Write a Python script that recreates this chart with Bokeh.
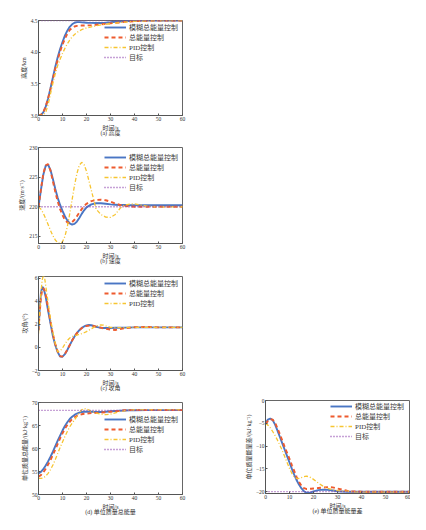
from bokeh.plotting import figure
from bokeh.models import Range1d, Legend, LegendItem, FixedTicker, Spacer
from bokeh.layouts import row, column
from bokeh.embed import file_html
from bokeh.resources import INLINE

# ---------------- data ----------------
T = [0, 1, 2, 3, 4, 5, 6, 7, 8, 9, 10, 11, 12, 13, 14, 15, 16, 17, 18, 19, 20,
     22, 24, 26, 28, 30, 32, 34, 36, 38, 40, 45, 50, 55, 60]
T_c = [0, 0.5, 1, 1.5, 2, 2.5, 3, 4, 5, 6, 7, 8, 9, 10, 11, 12, 13, 14, 15, 16,
       17, 18, 19, 20, 21, 22, 23, 24, 25, 26, 27, 28, 30, 32, 34, 36, 40, 45, 50, 55, 60]

labels = ["模糊总能量控制", "总能量控制", "PID控制", "目标"]
x_ticks = [0, 10, 20, 30, 40, 50, 60]

# (a) height, km
h_fuzzy = [3.00, 3.01, 3.05, 3.14, 3.27, 3.43, 3.60, 3.77, 3.92, 4.05, 4.16, 4.26, 4.34, 4.40, 4.44,
           4.465, 4.475, 4.475, 4.47, 4.468, 4.465,
           4.462, 4.46, 4.46, 4.465, 4.472, 4.48, 4.485, 4.49, 4.493, 4.495,
           4.498, 4.5, 4.5, 4.5]
h_tecs = [3.00, 3.01, 3.05, 3.14, 3.27, 3.42, 3.58, 3.74, 3.88, 4.01, 4.12, 4.21, 4.29, 4.35, 4.385,
          4.405, 4.415, 4.418, 4.42, 4.42, 4.422,
          4.427, 4.433, 4.44, 4.447, 4.455, 4.463, 4.47, 4.478, 4.485, 4.49,
          4.496, 4.5, 4.5, 4.5]
h_pid = [3.00, 3.00, 3.01, 3.05, 3.17, 3.34, 3.51, 3.66, 3.79, 3.89, 3.98, 4.06, 4.13, 4.19, 4.24,
         4.28, 4.31, 4.335, 4.355, 4.37, 4.383,
         4.40, 4.415, 4.43, 4.44, 4.45, 4.46, 4.468, 4.475, 4.482, 4.488,
         4.495, 4.498, 4.5, 4.5]
h_target = 4.5

# (b) velocity, m/s
v_fuzzy = [220.0, 222.8, 225.4, 226.9, 227.1, 226.2, 224.7, 223.0, 221.5, 220.3, 219.3, 218.4, 217.7,
           217.2, 217.0, 217.1, 217.5, 218.1, 218.8, 219.4, 219.9,
           220.4, 220.6, 220.6, 220.5, 220.4, 220.35, 220.3, 220.3, 220.25, 220.25,
           220.25, 220.25, 220.25, 220.25]
v_tecs = [220.0, 222.9, 225.6, 227.0, 227.2, 226.1, 224.3, 222.5, 220.9, 219.6, 218.6, 217.8, 217.35,
          217.25, 217.4, 217.8, 218.4, 219.0, 219.6, 220.1, 220.5,
          220.95, 221.15, 221.2, 221.1, 220.85, 220.55, 220.3, 220.15, 220.05, 220.0,
          220.0, 220.0, 220.0, 220.0]
v_pid = [220.0, 219.6, 218.9, 218.0, 217.0, 216.0, 215.1, 214.4, 213.95, 213.8, 214.1, 215.0, 216.6,
         218.8, 221.2, 223.6, 225.6, 227.0, 227.5, 227.1, 226.0,
         222.8, 219.6, 218.7, 218.25, 218.2, 218.7, 219.75, 220.3, 220.45, 220.5,
         220.1, 219.95, 220.0, 220.0]
v_target = 220.0

# (c) angle of attack, deg
a_fuzzy = [1.5, 3.3, 4.7, 5.25, 5.2, 4.85, 4.4,
           3.2, 2.1, 1.0, 0.2, -0.4, -0.78, -0.8, -0.58, -0.22, 0.2, 0.6, 0.95, 1.25, 1.5, 1.7,
           1.83, 1.92, 1.95, 1.93, 1.87, 1.8, 1.75, 1.72, 1.7, 1.7,
           1.7, 1.71, 1.72, 1.73, 1.75, 1.75, 1.75, 1.75, 1.75]
a_tecs = [1.5, 3.0, 4.3, 4.95, 5.15, 5.0, 4.6,
          3.4, 2.25, 1.15, 0.3, -0.35, -0.75, -0.78, -0.55, -0.2, 0.2, 0.6, 0.95, 1.25, 1.5, 1.68,
          1.8, 1.87, 1.9, 1.9, 1.87, 1.82, 1.77, 1.72, 1.67, 1.62,
          1.56, 1.52, 1.6, 1.68, 1.76, 1.78, 1.75, 1.75, 1.75]
a_pid = [1.2, 3.0, 4.7, 5.8, 6.3, 6.1, 5.4,
         3.9, 2.5, 1.3, 0.35, -0.38, -0.3, -0.05, 0.3, 0.6, 0.82, 0.95, 1.02, 1.08, 1.14, 1.2,
         1.28, 1.38, 1.5, 1.62, 1.75, 1.86, 1.93, 1.97, 1.95, 1.88,
         1.75, 1.72, 1.72, 1.73, 1.75, 1.75, 1.75, 1.75, 1.75]

# (d) specific total energy, kJ/kg
e_fuzzy = [54.6, 54.9, 55.5, 56.3, 57.2, 58.2, 59.3, 60.5, 61.7, 62.8, 63.9, 64.9, 65.7, 66.4, 66.9,
           67.3, 67.6, 67.8, 67.95, 68.0, 68.0,
           68.0, 67.95, 67.95, 68.0, 68.1, 68.15, 68.2, 68.25, 68.3, 68.3,
           68.35, 68.35, 68.35, 68.35]
e_tecs = [53.9, 54.2, 54.8, 55.6, 56.5, 57.5, 58.6, 59.8, 61.0, 62.2, 63.3, 64.3, 65.1, 65.8, 66.4,
          66.8, 67.1, 67.3, 67.45, 67.55, 67.6,
          67.7, 67.75, 67.8, 67.9, 68.0, 68.1, 68.2, 68.3, 68.35, 68.35,
          68.35, 68.35, 68.35, 68.35]
e_pid = [53.5, 53.5, 53.6, 54.0, 54.6, 55.4, 56.4, 57.6, 58.9, 60.2, 61.4, 62.6, 63.7, 64.7, 65.5,
         66.2, 67.0, 67.8, 68.4, 68.7, 68.6,
         68.1, 67.7, 67.45, 67.35, 67.45, 67.75, 68.05, 68.25, 68.35, 68.4,
         68.4, 68.4, 68.4, 68.4]
e_target = 68.3

# (e) specific energy difference, kJ/kg
d_fuzzy = [-4.9, -4.2, -3.95, -4.3, -5.3, -6.6, -8.0, -9.4, -10.8, -12.2, -13.6, -15.0, -16.3, -17.5,
           -18.5, -19.3, -19.9, -20.2, -20.25, -20.15, -19.95,
           -19.65, -19.55, -19.6, -19.75, -19.9, -19.95, -20.0, -20.0, -20.0, -20.0,
           -20.0, -20.0, -20.0, -20.0]
d_tecs = [-5.1, -4.5, -4.1, -4.2, -4.9, -6.1, -7.4, -8.8, -10.2, -11.5, -12.8, -14.2, -15.5, -16.8,
          -17.9, -18.7, -19.2, -19.4, -19.4, -19.35, -19.3,
          -19.2, -19.1, -19.0, -19.05, -19.3, -19.55, -19.8, -19.9, -19.95, -20.0,
          -20.0, -20.0, -20.0, -20.0]
d_pid = [-5.0, -5.4, -6.0, -6.8, -7.7, -8.7, -9.8, -11.0, -12.3, -13.6, -14.9, -16.0, -16.8, -17.1,
         -17.1, -16.9, -16.7, -16.6, -16.7, -16.95, -17.3,
         -18.1, -18.8, -19.3, -19.6, -19.75, -19.85, -19.9, -20.0, -20.05, -20.05,
         -20.05, -20.05, -20.05, -20.05]
d_target = -20.0

# ---------------- style ----------------
SERIF = "'Liberation Serif', 'Noto Sans CJK SC'"
C_BLUE = "#4a76c4"
C_RED = "#ee5b2e"
C_YEL = "#f7c531"
C_PUR = "#8e44ad"
STYLES = [
    dict(line_color=C_BLUE, line_width=1.9, line_dash="solid"),
    dict(line_color=C_RED, line_width=1.9, line_dash="4 3"),
    dict(line_color=C_YEL, line_width=1.3, line_dash="4 2 1 2"),
    dict(line_color=C_PUR, line_width=1.3, line_dash="1 2"),
]
ITEM_H = 9.2


def panel(width, height, b_top, b_bottom, b_left, b_right, t, ys, target, yrange, yticks,
          ylabel, caption, leg_x, leg_c1, ytick_labels=None):
    p = figure(width=width, height=height, x_range=Range1d(0, 60), y_range=Range1d(*yrange),
               output_backend="svg", toolbar_location=None,
               min_border_top=b_top, min_border_bottom=b_bottom,
               min_border_left=b_left, min_border_right=b_right)
    frame_h = height - b_top - b_bottom
    p.grid.visible = False
    p.outline_line_color = "#666666"
    p.outline_line_width = 1
    p.background_fill_color = "white"
    p.border_fill_color = "white"
    items = []
    for i, y in enumerate(ys):
        r = p.line(t, y, **STYLES[i])
        items.append(LegendItem(label=labels[i], renderers=[r]))
    if target is not None:
        r = p.line([0, 60], [target, target], **STYLES[3])
        items.append(LegendItem(label=labels[3], renderers=[r]))
    for ax in (p.xaxis[0], p.yaxis[0]):
        ax.axis_line_color = "#555555"
        ax.major_tick_line_color = "#555555"
        ax.major_tick_in = 2
        ax.major_tick_out = 0
        ax.minor_tick_line_color = None
        ax.major_label_text_font = SERIF
        ax.major_label_text_font_size = "5.5px"
        ax.major_label_text_color = "#333333"
        ax.axis_label_text_font = SERIF
        ax.axis_label_text_font_size = "6px"
        ax.axis_label_text_font_style = "normal"
        ax.axis_label_text_color = "#333333"
        ax.major_label_standoff = 1
        ax.axis_label_standoff = 1
    p.xaxis.axis_label_text_line_height = 0.9
    p.xaxis.ticker = FixedTicker(ticks=x_ticks)
    p.yaxis.ticker = FixedTicker(ticks=yticks)
    if ytick_labels:
        p.yaxis.major_label_overrides = ytick_labels
    p.xaxis.axis_label = "时间/s\n" + caption
    p.yaxis.axis_label = ylabel
    n = len(items)
    leg_y = frame_h - (leg_c1 - ITEM_H / 2) - n * ITEM_H
    leg = Legend(items=items, location=(leg_x, leg_y))
    leg.background_fill_alpha = 0
    leg.border_line_alpha = 0
    leg.padding = 0
    leg.margin = 0
    leg.spacing = 0
    leg.glyph_height = 8
    leg.glyph_width = 22
    leg.label_height = 8
    leg.label_standoff = 3
    leg.label_text_font = SERIF
    leg.label_text_font_size = "7px"
    leg.label_text_line_height = 0.9
    leg.label_text_color = "#3a3a3a"
    p.add_layout(leg)
    return p


pa = panel(200, 140, 20, 25, 38, 18, T, [h_fuzzy, h_tecs, h_pid], h_target, (3.0, 4.5),
           [3.0, 3.5, 4.0, 4.5], "高度/km", "(a) 高度", 66, 9.3,
           {3.0: "3.0", 3.5: "3.5", 4.0: "4.0", 4.5: "4.5"})
pb = panel(200, 127, 7, 24, 38, 18, T, [v_fuzzy, v_tecs, v_pid], v_target, (213.8, 230),
           [215, 220, 225, 230], "速度/(m·s⁻¹)", "(b) 速度", 66, 12.3)
pc = panel(200, 127, 9, 24, 38, 18, T_c, [a_fuzzy, a_tecs, a_pid], None, (-2, 6.17),
           [-2, 0, 2, 4, 6], "攻角/(°)", "(c) 攻角", 66, 9.0)
pd = panel(200, 132, 8, 32, 38, 18, T, [e_fuzzy, e_tecs, e_pid], e_target, (50, 70),
           [50, 55, 60, 65, 70], "单位质量总能量/(kJ·kg⁻¹)", "(d) 单位质量总能量", 66, 19.7)
pe = panel(210, 134, 8, 33, 65, 1, T, [d_fuzzy, d_tecs, d_pid], d_target, (-20.4, 0),
           [-20, -15, -10, -5, 0], "单位质量能量差/(kJ·kg⁻¹)", "(e) 单位质量能量差", 65, 8.3)

layout = row(column(pa, pb, pc, pd), column(Spacer(width=210, height=392), pe))

open("out.html", "w").write(file_html(layout, INLINE))
